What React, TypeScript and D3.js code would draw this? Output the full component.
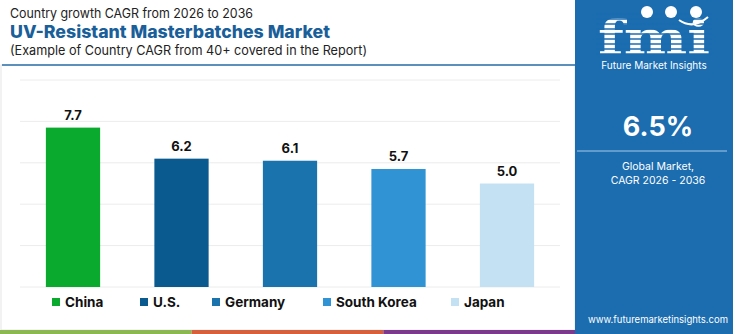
import React from "react";
import * as d3 from "d3";

const categories = ["China", "U.S.", "Germany", "South Korea", "Japan"];
const values = [7.7, 6.2, 6.1, 5.7, 5.0];
const colors = ["#0aaa2e", "#0b5a8f", "#1b73ad", "#3094d4", "#c4e1f3"];
const gridTicks = [0, 2, 4, 6, 8, 10];
const legendX = [52, 140, 212, 323, 451];
const stripeColors = ["#8cb851", "#d6603c", "#7c3a8c"];

const W = 750;
const H = 334;
const FONT = "Inter, 'Open Sans', sans-serif";

export default function App() {
  const x = d3.scaleBand<string>().domain(categories).range([18.75, 561.25]).paddingInner(0.5).paddingOuter(0.25);
  const y = d3.scaleLinear().domain([0, 10]).range([287, 80]);
  const stripeX = d3.scaleLinear().domain([0, 3]).range([0, 575]);
  const panelL = 575;
  const panelR = 733;
  const pc = (panelL + panelR) / 2 + 4;

  const stripes = d3.range(0, 9).map((i) => 14 + i * 5);

  return (
    <svg width={W} height={H} style={{ position: "absolute", left: 0, top: 0, background: "#fff" }}>
      {/* card border */}
      <rect x={1} y={65} width={574} height={265} fill="#fff" stroke="#e6e6e6" strokeWidth={1} />
      {/* title */}
      <text x={10} y={18} fontFamily={FONT} fontSize={13} fill="#222" textLength={243} lengthAdjust="spacingAndGlyphs">Country growth CAGR from 2026 to 2036</text>
      <text x={10} y={37.5} fontFamily={FONT} fontSize={17} fontWeight={800} fill="#1a5f99" textLength={320} lengthAdjust="spacingAndGlyphs">UV-Resistant Masterbatches Market</text>
      <text x={10} y={55} fontFamily={FONT} fontSize={13} fill="#222" textLength={357} lengthAdjust="spacingAndGlyphs">(Example of Country CAGR from 40+ covered in the Report)</text>
      <line x1={2} x2={575} y1={65} y2={65} stroke="#2a6ea8" strokeWidth={1.5} />

      {/* gridlines */}
      {gridTicks.map((t) => (
        <line key={t} x1={20} x2={560} y1={y(t)} y2={y(t)} stroke="#ececec" strokeWidth={1} />
      ))}

      {/* bars */}
      {categories.map((c, i) => (
        <g key={c}>
          <rect x={x(c)} y={y(values[i])} width={x.bandwidth()} height={y(0) - y(values[i])} fill={colors[i]} />
          <text x={(x(c) as number) + x.bandwidth() / 2} y={y(values[i]) - 8} textAnchor="middle" fontFamily={FONT} fontSize={13} fontWeight={700} fill="#111">
            {values[i].toFixed(1)}
          </text>
        </g>
      ))}

      {/* legend */}
      {categories.map((c, i) => (
        <g key={c}>
          <rect x={legendX[i]} y={298} width={8} height={8} fill={colors[i]} />
          <text x={legendX[i] + 13} y={307} fontFamily={FONT} fontSize={13.5} fontWeight={700} fill="#111">{c}</text>
        </g>
      ))}

      {/* bottom stripes */}
      {stripeColors.map((col, i) => (
        <rect key={col} x={stripeX(i)} y={330} width={stripeX(i + 1) - stripeX(i)} height={4} fill={col} />
      ))}

      {/* right panel */}
      <rect x={panelL} y={0} width={panelR - panelL} height={H} fill="#1b6db0" />
      {/* logo */}
      <text x={598} y={54} fontFamily="'DejaVu Serif', serif" fontSize={46} fontWeight={700} fill="#fff" textLength={112} lengthAdjust="spacingAndGlyphs">fmi</text>
      {stripes.map((s) => (
        <line key={s} x1={596} x2={712} y1={s} y2={s} stroke="#1b6db0" strokeWidth={1.3} />
      ))}
      <circle cx={647} cy={12} r={6} fill="#fff" />
      <circle cx={671} cy={12} r={6} fill="#fff" />
      <circle cx={696} cy={12} r={6} fill="#fff" />
      <path d="M679,20 Q693,30 708,17" fill="none" stroke="#fff" strokeWidth={2} />
      <text x={654} y={69} textAnchor="middle" fontFamily={FONT} fontSize={10} fill="#fff">Future Market Insights</text>

      <text x={pc} y={136} textAnchor="middle" fontFamily={FONT} fontSize={27} fontWeight={700} fill="#fff">6.5%</text>
      <line x1={577} x2={727} y1={151} y2={151} stroke="#a9cbe8" strokeWidth={1} />
      <text x={pc} y={170} textAnchor="middle" fontFamily={FONT} fontSize={10.5} fill="#fff">Global Market,</text>
      <text x={pc} y={184} textAnchor="middle" fontFamily={FONT} fontSize={10.5} fill="#fff">CAGR 2026 - 2036</text>
      <text x={pc} y={323} textAnchor="middle" fontFamily={FONT} fontSize={9.5} fill="#fff">www.futuremarketinsights.com</text>
    </svg>
  );
}
